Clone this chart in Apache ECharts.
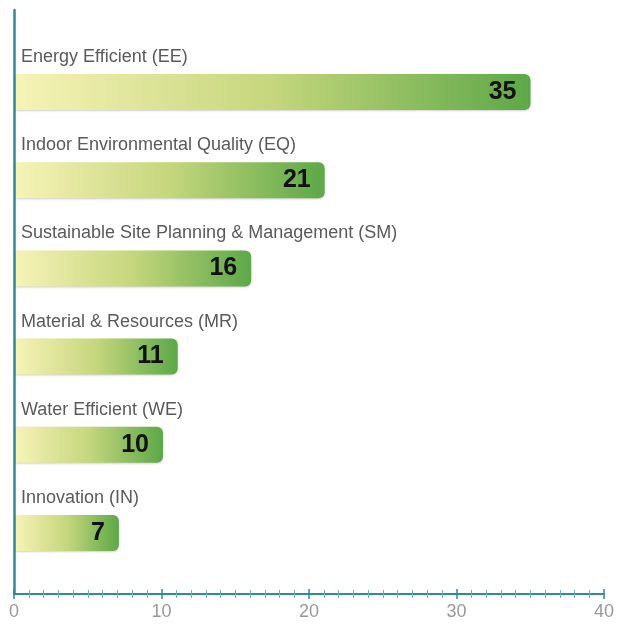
<!DOCTYPE html>
<html>
<head>
<meta charset="utf-8">
<script src="https://cdn.jsdelivr.net/npm/echarts@6/dist/echarts.min.js"></script>
<style>
	html, body { margin: 0; padding: 0; background: #fff; }
	#chart { width: 618px; height: 625px; }
</style>
</head>
<body>
<div id="chart"></div>
<script>
/**
 * 数据
 * */
var categories = [
	'Energy Efficient (EE)',
	'Indoor Environmental Quality (EQ)',
	'Sustainable Site Planning & Management (SM)',
	'Material & Resources (MR)',
	'Water Efficient (WE)',
	'Innovation (IN)'
];
var values = [35, 21, 16, 11, 10, 7];
var axisMin = 0;
var axisMax = 40;

var teal = '#2b8c9b';

//柱子渐变
var barColor = new echarts.graphic.LinearGradient(0, 0, 1, 0, [
	{ offset: 0, color: '#f6f3b6' },
	{ offset: 0.5, color: '#c5d67c' },
	{ offset: 1, color: '#5ca847' }
]);

var chart = echarts.init(document.getElementById('chart'));

var option = {
	animation: false,
	grid: [
		//柱子区域
		{ left: 16, right: 14, top: 48, bottom: 48 },
		//坐标轴区域
		{ left: 14, right: 14, top: 10, bottom: 31 }
	],
	xAxis: [
		{
			gridIndex: 0, type: 'value', min: axisMin, max: axisMax, show: false
		},
		{
			gridIndex: 1, type: 'value', min: axisMin, max: axisMax, interval: 10,
			position: 'bottom',
			axisLine: { show: true, onZero: false, lineStyle: { color: teal, width: 2 } },
			axisTick: { show: true, length: 5, lineStyle: { color: teal, width: 1.5 } },
			minorTick: { show: true, splitNumber: 10, length: 4, lineStyle: { color: '#6fb0bb', width: 1 } },
			axisLabel: { color: '#999', fontSize: 18, fontFamily: 'Liberation Sans', margin: 9 },
			splitLine: { show: false }
		},
		{
			//向内的刻度，让刻度穿过轴线
			gridIndex: 1, type: 'value', min: axisMin, max: axisMax, interval: 10,
			position: 'bottom',
			axisLine: { show: false, onZero: false },
			axisTick: { show: true, inside: true, length: 5, lineStyle: { color: teal, width: 1.5 } },
			minorTick: { show: true, splitNumber: 10, length: 4, lineStyle: { color: '#6fb0bb', width: 1 } },
			axisLabel: { show: false },
			splitLine: { show: false }
		}
	],
	yAxis: [
		{
			gridIndex: 0, type: 'category', data: categories, inverse: true,
			axisLine: { show: false }, axisTick: { show: false },
			axisLabel: {
				inside: true, margin: 5,
				formatter: function(v) {
					return '{n|' + v + '}\n{sp| }';
				},
				rich: {
					n: { color: '#5a5a5a', fontSize: 18, fontFamily: 'Liberation Sans', lineHeight: 20 },
					sp: { fontSize: 10, lineHeight: 70 }
				}
			}
		},
		{
			gridIndex: 1, type: 'value', min: 0, max: 1,
			axisLine: { show: true, onZero: false, lineStyle: { color: teal, width: 2.5 } },
			axisTick: { show: false }, axisLabel: { show: false }, splitLine: { show: false }
		}
	],
	series: [{
		type: 'bar',
		xAxisIndex: 0,
		yAxisIndex: 0,
		data: values,
		barWidth: 36,
		itemStyle: {
			color: barColor,
			borderRadius: [0, 6, 6, 0],
			shadowBlur: 2,
			shadowColor: 'rgba(0,0,0,0.18)',
			shadowOffsetY: 1
		},
		label: {
			show: true,
			position: 'insideRight',
			distance: 14,
			color: '#111',
			fontSize: 25,
			fontWeight: 'bold',
			fontFamily: 'Liberation Sans'
		}
	}]
};

chart.setOption(option);
</script>
</body>
</html>
